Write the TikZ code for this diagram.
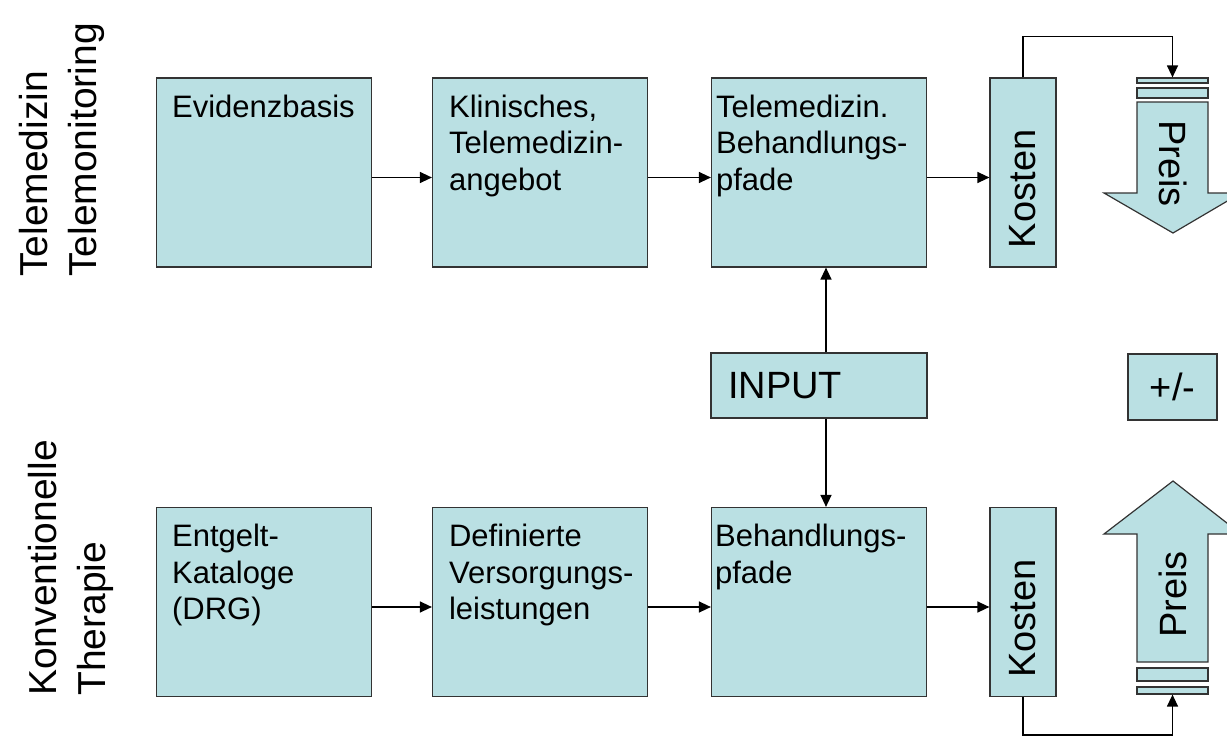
\documentclass[tikz,border=0pt]{standalone}
\usepackage{fontspec}
\setmainfont{Liberation Sans}
\usetikzlibrary{arrows.meta}
\definecolor{boxColor}{rgb}{0.73,0.88,0.89}
\definecolor{lineColor}{rgb}{0.2,0.2,0.2}
\tikzset{
  mybox/.style={draw=lineColor, fill=boxColor, line width=1.2pt, inner sep=0pt, minimum width=215pt, minimum height=189pt},
  mytext/.style={anchor=north west, align=left, inner sep=0pt, font=\fontsize{31}{36.5}\selectfont},
  mybar/.style={mybox, rotate=90, minimum width=189pt, minimum height=66pt, text width=151pt, inner xsep=19pt, inner ysep=0pt, align=left, font=\fontsize{38}{44}\selectfont},
  myinput/.style={mybox, minimum width=216pt, minimum height=65pt, text width=182pt, inner xsep=17pt, inner ysep=0pt, align=left, font=\fontsize{38}{44}\selectfont},
  mysmall/.style={mybox, minimum width=89pt, minimum height=66pt, font=\fontsize{38}{44}\selectfont},
  mystripe/.style={draw=lineColor, fill=boxColor, line width=1.2pt, inner sep=0pt, minimum width=71pt},
  myshape/.style={draw=lineColor, fill=boxColor, line width=1.2pt},
  mylabel/.style={inner sep=0pt, font=\fontsize{38}{44}\selectfont},
  sidelabel/.style={rotate=90, anchor=north west, align=left, inner sep=0pt, font=\fontsize{39}{49}\selectfont},
  myedge/.style={draw=black, line width=1.3pt, -{Triangle[length=12pt,width=11pt]}}
}
\begin{document}
\begin{tikzpicture}[x=1pt, y=-1pt]
\useasboundingbox (0,0) rectangle (1227,736);
\clip (0,0) rectangle (1227,736);

% side labels
\node[sidelabel] (teleL) at (19,277) {Telemedizin\\Telemonitoring};
\node[sidelabel] (konvL) at (28,696) {Konventionelle\\Therapie};

% upper row
\node[mybox] (evid) at (264,172.5) {};
\node[mybox] (klin) at (540,172.5) {};
\node[mybox] (telbeh) at (819,172.5) {};
\node[mybar] (kostA) at (1023,172.5) {Kosten};
\node[mytext] (evidT) at ([xshift=16pt,yshift=-17pt]evid.north west) {Evidenzbasis};
\node[mytext] (klinT) at ([xshift=17pt,yshift=-17pt]klin.north west) {Klinisches,\\Telemedizin-\\angebot};
\node[mytext] (telbehT) at ([xshift=5pt,yshift=-17pt]telbeh.north west) {Telemedizin.\\Behandlungs-\\pfade};

% lower row
\node[mybox] (entg) at (264,602) {};
\node[mybox] (defv) at (540,602) {};
\node[mybox] (beh) at (819,602) {};
\node[mybar] (kostB) at (1023,602) {Kosten};
\node[mytext] (entgT) at ([xshift=16pt,yshift=-17pt]entg.north west) {Entgelt-\\Kataloge\\(DRG)};
\node[mytext] (defvT) at ([xshift=17pt,yshift=-17pt]defv.north west) {Definierte\\Versorgungs-\\leistungen};
\node[mytext] (behT) at ([xshift=4pt,yshift=-17pt]beh.north west) {Behandlungs-\\pfade};

% middle
\node[myinput] (input) at (819,385.5) {INPUT};
\node[mysmall] (pm) at (1172.5,387) {+/-};

% price arrows
\draw[myshape] (1137,102) -- (1208,102) -- (1208,193) -- (1241,193) -- (1173,233)
  -- (1104,193) -- (1137,193) -- cycle;
\node[mystripe, minimum height=5pt] (stripeTa) at (1172.5,80.5) {};
\node[mystripe, minimum height=10pt] (stripeTb) at (1172.5,93) {};
\node[mylabel, rotate=-90] (preisT) at (1173,163.5) {Preis};

\draw[myshape] (1137,662) -- (1137,534) -- (1104,534) -- (1173,481) -- (1241,534)
  -- (1208,534) -- (1208,662) -- cycle;
\node[mystripe, minimum height=13pt] (stripeBa) at (1172.5,674.5) {};
\node[mystripe, minimum height=7pt] (stripeBb) at (1172.5,690.5) {};
\node[mylabel, rotate=90] (preisB) at (1173,594.5) {Preis};

% connectors
\draw[myedge] ([yshift=-5pt]evid.east) -- ([yshift=-5pt]klin.west);
\draw[myedge] ([yshift=-5pt]klin.east) -- ([yshift=-5pt]telbeh.west);
\draw[myedge] ([yshift=-5pt]telbeh.east) -- ([yshift=-5pt]kostA.north);
\draw[myedge] ([yshift=-5pt]entg.east) -- ([yshift=-5pt]defv.west);
\draw[myedge] ([yshift=-5pt]defv.east) -- ([yshift=-5pt]beh.west);
\draw[myedge] ([yshift=-5pt]beh.east) -- ([yshift=-5pt]kostB.north);
\draw[myedge] ([xshift=7pt]input.north) -- ([xshift=7pt]telbeh.south);
\draw[myedge] ([xshift=7pt]input.south) -- ([xshift=7pt]beh.north);
\draw[myedge] (kostA.east) -- ++(0,-41) -| (stripeTa.north);
\draw[myedge] (kostB.west) -- ++(0,38) -| (stripeBb.south);
\end{tikzpicture}
\end{document}
